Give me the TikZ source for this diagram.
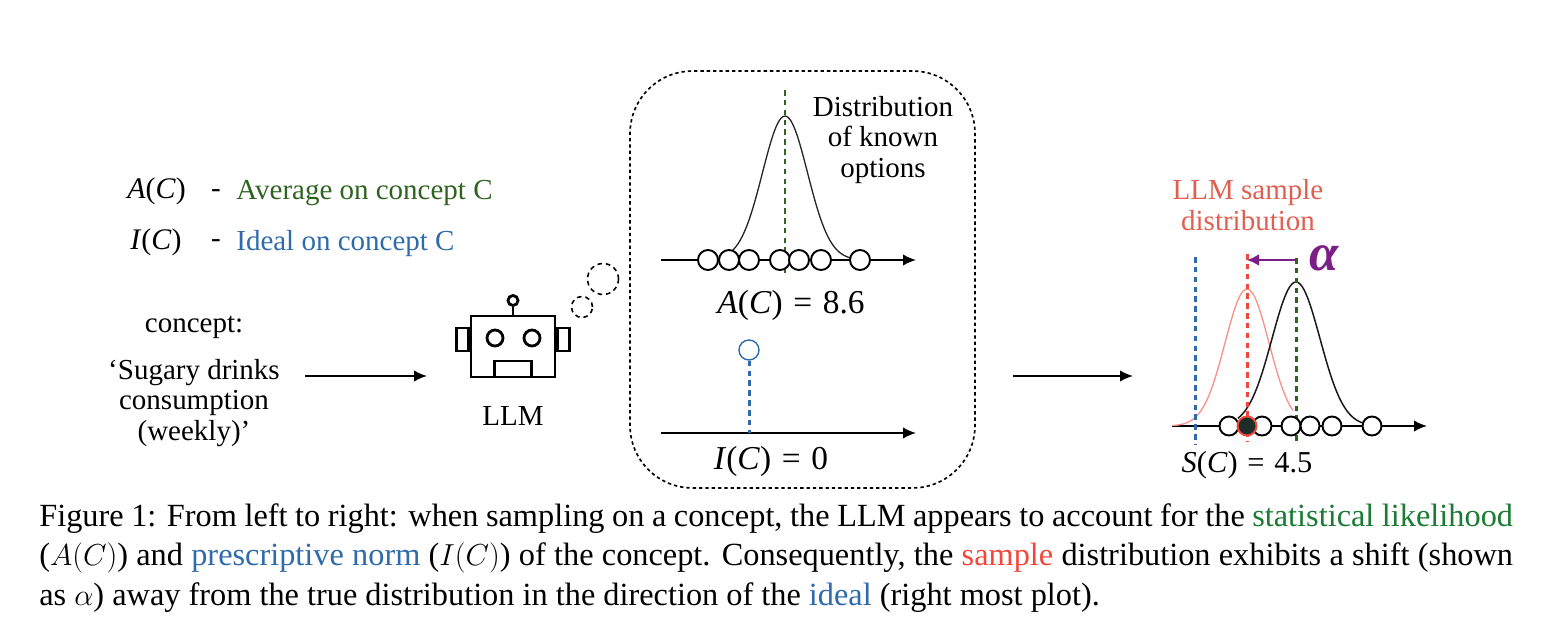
\documentclass[tikz,border=0pt]{standalone}
\usepackage{fontspec}
\setmainfont{Liberation Serif}
\usetikzlibrary{arrows.meta}
\definecolor{avggreen}{HTML}{2F6320}
\definecolor{idealblue}{HTML}{2F6BAA}
\definecolor{samplered}{HTML}{F2483C}
\definecolor{labelred}{HTML}{DF5F50}
\definecolor{shiftpurple}{HTML}{7B1F86}
\definecolor{capgreen}{HTML}{1B7A33}
\definecolor{meandark}{HTML}{1F2D28}
\tikzset{
  txt/.style={
    align=center,
    inner sep=0pt,
    font=\fontsize{16.5}{17.6}\selectfont
  },
  dot/.style={
    circle,
    draw,
    fill=white,
    line width=1.1pt,
    minimum size=0.4cm,
    inner sep=0pt
  },
  part/.style={
    draw,
    line width=1.6pt,
    inner sep=0pt
  },
  guide/.style={
    line width=1.7pt,
    dash pattern=on 3.2pt off 2.4pt
  }
}
\tikzstyle{arrow} = [-{Latex[length=0.26cm, width=0.23cm]}, line width=1.1pt]
\def\bell#1#2#3#4#5#6{plot[domain=#1:#2, samples=60, smooth] (\x, {#6 - #5*exp(-((\x-#3)/#4)*((\x-#3)/#4)/2)})}
\def\mi#1{\textit{#1}}
\def\eq{\hspace{0.32em}=\hspace{0.32em}}

\begin{document}
\begin{tikzpicture}[x=0.02cm, y=-0.02cm]
    \useasboundingbox (0,0) rectangle (1552,624);
    % key on the left
    \node[txt, anchor=west] (keyA) at (127,191) {\fontsize{17}{19}\selectfont\mi{A}(\mi{C})};
    \node[txt] (dashA) at (216,194) {-};
    \node[txt, anchor=west, text=avggreen] (textA) at (236,193) {Average on concept C};
    \node[txt, anchor=west] (keyI) at (130,242) {\fontsize{17}{19}\selectfont\mi{I}(\mi{C})};
    \node[txt] (dashI) at (216,244) {-};
    \node[txt, anchor=west, text=idealblue] (textI) at (236,244) {Ideal on concept C};
    \node[txt] (concept) at (194,327) {concept:};
    \node[txt, execute at begin node=\setlength{\baselineskip}{17.3pt}] (drinks) at (194,403) {`Sugary drinks\\consumption\\(weekly)'};
    % robot
    \node[part, minimum width=1.68cm, minimum height=1.22cm] (body) at (513,346.5) {};
    \node[part, minimum width=0.24cm, minimum height=0.46cm, anchor=east] (earL) at (body.west |- 0,339.5) {};
    \node[part, minimum width=0.24cm, minimum height=0.46cm, anchor=west] (earR) at (body.east |- 0,339.5) {};
    \node[part, circle, minimum size=0.32cm] (eyeL) at (495,338) {};
    \node[part, circle, minimum size=0.32cm] (eyeR) at (532,338) {};
    \node[part, minimum width=0.74cm, minimum height=0.32cm, anchor=south] (mouth) at (body.south) {};
    \node[part, circle, minimum size=0.2cm] (knob) at (513,300.5) {};
    \draw[line width=1.6pt] (knob) -- (body);
    \node[txt] (llm) at (513,416) {LLM};
    \node[draw, circle, dashed, line width=0.9pt, dash pattern=on 2.6pt off 2.2pt, minimum size=0.42cm, inner sep=0pt] (puffS) at (582,307) {};
    \node[draw, circle, dashed, line width=0.9pt, dash pattern=on 2.6pt off 2.2pt, minimum size=0.62cm, inner sep=0pt] (puffL) at (603,279) {};
    % thought box
    \node[draw, line width=0.95pt, dash pattern=on 1.9pt off 1.7pt, rounded corners=1.25cm, minimum width=6.9cm, minimum height=8.34cm] (thought) at (802.5,279.5) {};
    \coordinate (axA0) at (661,260);
    \coordinate (axA1) at (916,260);
    \draw[arrow] (axA0) -- (axA1);
    \coordinate (meanA0) at (785,90);
    \coordinate (meanA1) at (785,276);
    \draw[guide, line width=1.3pt, avggreen] (meanA0) -- (meanA1);
    \draw[line width=0.75pt, black!85] \bell{729}{862}{785}{22.5}{144}{260};
    \foreach \x [count=\i] in {708,729,749,780,799,821,860} {
        \node[dot] (a\i) at (\x,260) {};
    }
    \node[txt] (known) at (883,140) {Distribution\\of known\\options};
    \node[txt] (valA) at (791,305) {\fontsize{19}{20}\selectfont\mi{A}(\mi{C})\eq 8.6};
    \coordinate (axI0) at (661,433);
    \coordinate (axI1) at (916,433);
    \draw[arrow] (axI0) -- (axI1);
    \node[dot, draw=idealblue, line width=0.8pt] (idealpt) at (749,350) {};
    \coordinate (idealft) at (749,433);
    \draw[guide, idealblue] (idealpt) -- (idealft);
    \node[txt] (valI) at (771,461) {\fontsize{19}{20}\selectfont\mi{I}(\mi{C})\eq 0};
    % flow arrows
    \coordinate (inL) at (305,376);
    \coordinate (inR) at (427,376);
    \draw[arrow] (inL) -- (inR);
    \coordinate (outL) at (1013,376);
    \coordinate (outR) at (1133,376);
    \draw[arrow] (outL) -- (outR);
    % plot on the right
    \coordinate (axS0) at (1172,426);
    \coordinate (axS1) at (1427,426);
    \draw[arrow] (axS0) -- (axS1);
    \draw[line width=0.75pt, samplered!60] \bell{1172}{1293}{1247}{22}{137}{426};
    \draw[line width=0.85pt, black!90] \bell{1238}{1365}{1296}{24}{144}{426};
    \coordinate (idealS0) at (1195,257);
    \coordinate (idealS1) at (1195,444);
    \draw[guide, idealblue] (idealS0) -- (idealS1);
    \coordinate (avgS0) at (1296,258);
    \coordinate (avgS1) at (1296,444);
    \draw[guide, avggreen] (avgS0) -- (avgS1);
    \coordinate (smpS0) at (1247,254);
    \coordinate (smpS1) at (1247,441);
    \draw[guide, samplered] (smpS0) -- (smpS1);
    \foreach \x [count=\i] in {1229,1262,1291,1310,1332,1372} {
        \node[dot, minimum size=0.38cm] (s\i) at (\x,426) {};
    }
    \node[dot, minimum size=0.38cm, fill=meandark, draw=samplered] (smean) at (1247,426) {};
    \draw[-{Latex[length=0.24cm, width=0.24cm]}, shiftpurple, line width=1.6pt] (avgS0 |- 0,260) -- (smpS0 |- 0,260);
    \node[txt, text=shiftpurple] (alpha) at (1324,258) {\fontsize{30}{30}\selectfont\bfseries\itshape α};
    \node[txt, text=labelred] (sample) at (1248,205) {LLM sample\\distribution};
    \node[txt] (valS) at (1247,465) {\fontsize{17.3}{18}\selectfont\mi{S}(\mi{C})\eq 4.5};
    % caption
    \node[anchor=north west, align=justify, text width=29.48cm, inner sep=0pt, font=\fontsize{18.4}{22.7}\selectfont] (caption) at (39,503) {Figure 1: From left to right: when sampling on a concept, the LLM appears to account for the \textcolor{capgreen}{statistical likelihood} ($A(C)$) and \textcolor{idealblue}{prescriptive norm} ($I(C)$) of the concept. Consequently, the \textcolor{samplered}{sample} distribution exhibits a shift (shown as $\alpha$) away from the true distribution in the direction of the \textcolor{idealblue}{ideal} (right most plot).};
\end{tikzpicture}
\end{document}
